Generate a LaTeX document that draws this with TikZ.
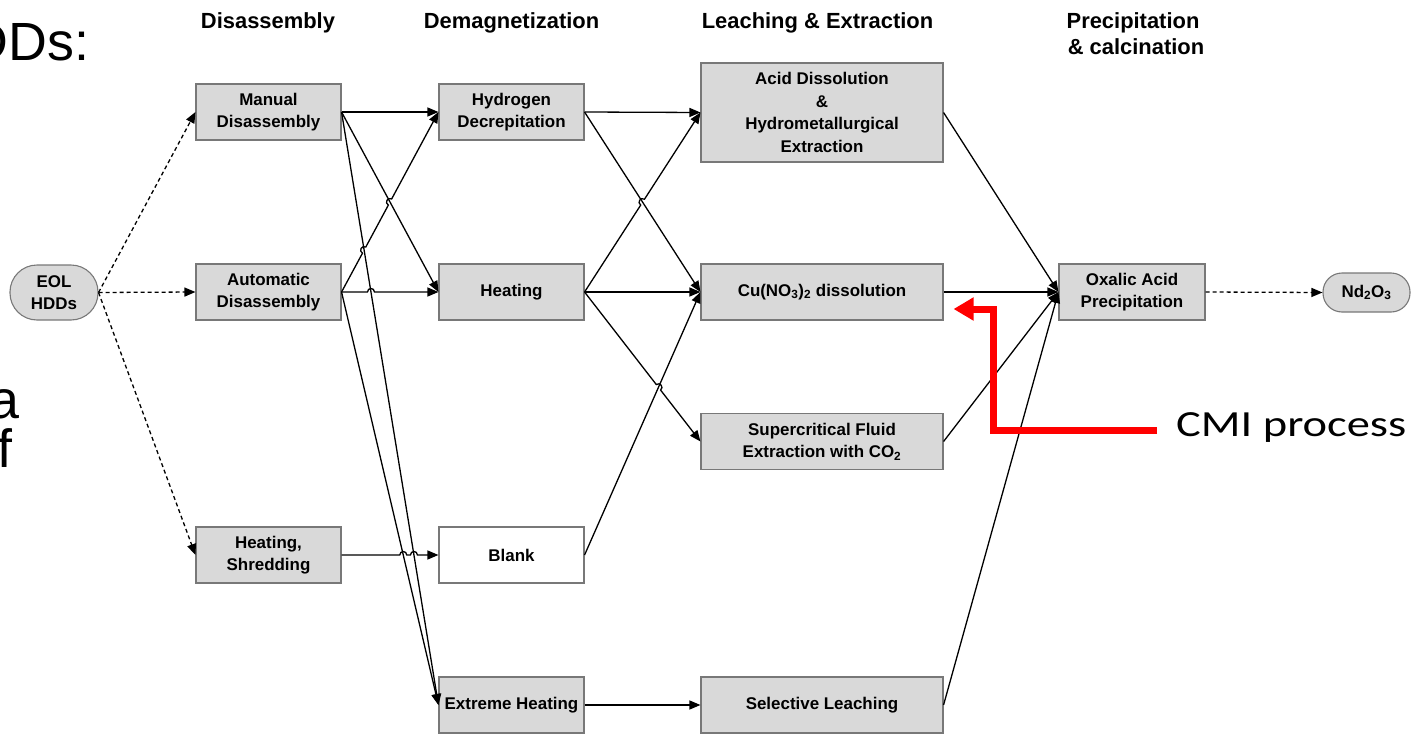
\documentclass[tikz,border=0pt]{standalone}
\usepackage{fontspec}
\usepackage{graphicx}
\setmainfont{Liberation Sans}
\newfontfamily\cmifont{Carlito}
\usetikzlibrary{arrows.meta,calc}

\definecolor{boxfill}{RGB}{217,217,217}
\definecolor{boxline}{RGB}{120,120,120}

\newcommand\bxfont{\bfseries\fontsize{17}{22.5}\selectfont}
\newcommand\hdfont{\bfseries\fontsize{22}{26}\selectfont}
\newcommand\slidefont{\fontsize{54}{60}\selectfont}

\tikzset{
  box/.style={draw=boxline, fill=boxfill, line width=1.1bp, minimum width=145bp,
    minimum height=56bp, inner sep=0pt, align=center, font=\bxfont},
  widebox/.style={box, minimum width=242bp},
  conn/.style={line width=1.3bp, -{Triangle[length=11bp,width=9bp]}},
  dconn/.style={conn, dash pattern=on 4bp off 3bp},
  jump/.style={bend left=90, looseness=1.7},
  head/.style={font=\hdfont, inner sep=0pt, anchor=base},
  slide/.style={font=\slidefont, inner sep=0pt},
  redarrow/.style={draw=red, line width=7bp, line join=miter,
    -{Triangle[length=20bp,width=22bp]}},
}

\begin{document}
\begin{tikzpicture}[x=1bp, y=-1bp]
\useasboundingbox (0,0) rectangle (1421,736);
\begin{scope}
\clip (0,0) rectangle (1421,736);

% slide text around the flow chart
\node[slide, anchor=base west] (dds) at (-30.3,60.5) {DDs:};
\node[slide, anchor=base east] (la) at (19.5,418) {a};
\node[slide, anchor=base east] (lf) at (13,467) {f};

% column headings
\node[head] (h1) at (268,29) {Disassembly};
\node[head] (h2) at (511.5,29) {Demagnetization};
\node[head] (h3) at (817.5,29) {Leaching \& Extraction};
\node[head] (h4a) at (1133,29) {Precipitation};
\node[head] (h4b) at (1136,55) {\& calcination};

% process steps
\node[box, minimum width=88bp, minimum height=55bp, rounded corners=27bp] (eol) at (54,292.5) {EOL\\HDDs};
\node[box] (man) at (268.5,112) {Manual\\Disassembly};
\node[box] (aut) at (268.5,292) {Automatic\\Disassembly};
\node[box] (hs) at (268.5,555) {Heating,\\Shredding};
\node[box] (hyd) at (511.5,112) {Hydrogen\\Decrepitation};
\node[box] (heat) at (511.5,292) {Heating};
\node[box, fill=white] (blank) at (511.5,555) {Blank};
\node[box] (ext) at (511.5,705) {Extreme Heating};
\node[widebox, minimum height=99bp] (acid) at (822,112.5) {Acid Dissolution\\\&\\Hydrometallurgical\\Extraction};
\node[widebox] (cu) at (822,292) {Cu(NO\textsubscript{3})\textsubscript{2} dissolution};
\node[widebox] (sup) at (822,441.5) {Supercritical Fluid\\Extraction with CO\textsubscript{2}};
\node[widebox] (sel) at (822,705) {Selective Leaching};
\node[box, minimum width=146bp] (oxa) at (1132,292) {Oxalic Acid\\Precipitation};
\node[box, minimum width=87bp, minimum height=39bp, rounded corners=19bp] (nd) at (1366.5,292.5) {Nd\textsubscript{2}O\textsubscript{3}};

% dashed feed and product lines
\draw[dconn] (eol.east) -- (man.west);
\draw[dconn] (eol.east) -- (aut.west);
\draw[dconn] (eol.east) -- (hs.west);
\draw[dconn] (oxa.east) -- (nd.west);

% plain connectors
\draw[conn] (man.east) -- (hyd.west);
\draw[conn] (man.east) -- (heat.west);
\draw[conn] (man.east) -- (ext.west);
\draw[conn] (aut.east) -- (ext.west);
\draw[conn] (hyd.east) -- (acid.west);
\draw[conn] (hyd.east) -- (cu.west);
\draw[conn] (heat.east) -- (cu.west);
\draw[conn] (blank.east) -- (cu.west);
\draw[conn] (ext.east) -- (sel.west);
\draw[conn] (acid.east) -- (oxa.west);
\draw[conn] (cu.east) -- (oxa.west);
\draw[conn] (sup.east) -- (oxa.west);
\draw[conn] (sel.east) -- (oxa.west);

% crossing points that get a line jump
\coordinate (j1) at (intersection of aut.east--hyd.west and man.east--ext.west);
\coordinate (j2) at (intersection of aut.east--hyd.west and man.east--heat.west);
\coordinate (j3) at (intersection of aut.east--heat.west and man.east--ext.west);
\coordinate (j4) at (intersection of hs.east--blank.west and aut.east--ext.west);
\coordinate (j5) at (intersection of hs.east--blank.west and man.east--ext.west);
\coordinate (j6) at (intersection of heat.east--acid.west and hyd.east--cu.west);
\coordinate (j7) at (intersection of heat.east--sup.west and blank.east--cu.west);

% connectors with line jumps
\draw[conn] (aut.east) -- ($(j1)!3.5bp!(aut.east)$) to[jump] ($(j1)!3.5bp!(hyd.west)$)
  -- ($(j2)!3.5bp!(aut.east)$) to[jump] ($(j2)!3.5bp!(hyd.west)$) -- (hyd.west);
\draw[conn] (aut.east) -- ($(j3)!3.5bp!(aut.east)$) to[jump] ($(j3)!3.5bp!(heat.west)$) -- (heat.west);
\draw[conn] (hs.east) -- ($(j4)!3.5bp!(hs.east)$) to[jump] ($(j4)!3.5bp!(blank.west)$)
  -- ($(j5)!3.5bp!(hs.east)$) to[jump] ($(j5)!3.5bp!(blank.west)$) -- (blank.west);
\draw[conn] (heat.east) -- ($(j6)!3.5bp!(heat.east)$) to[jump] ($(j6)!3.5bp!(acid.west)$) -- (acid.west);
\draw[conn] (heat.east) -- ($(j7)!3.5bp!(heat.east)$) to[jump] ($(j7)!3.5bp!(sup.west)$) -- (sup.west);

% CMI callout
\node[font=\cmifont\fontsize{37}{40}\selectfont, inner sep=0pt, anchor=base west] (cmi) at (1176,436.5) {\scalebox{1.26}[1]{CMI process}};
\coordinate (cmistart) at (1157,430);
\coordinate (cmitip) at ($(cu.east)+(10,17)$);
\draw[redarrow] (cmistart) -- (993,430) |- (cmitip);
\end{scope}
\end{tikzpicture}
\end{document}
